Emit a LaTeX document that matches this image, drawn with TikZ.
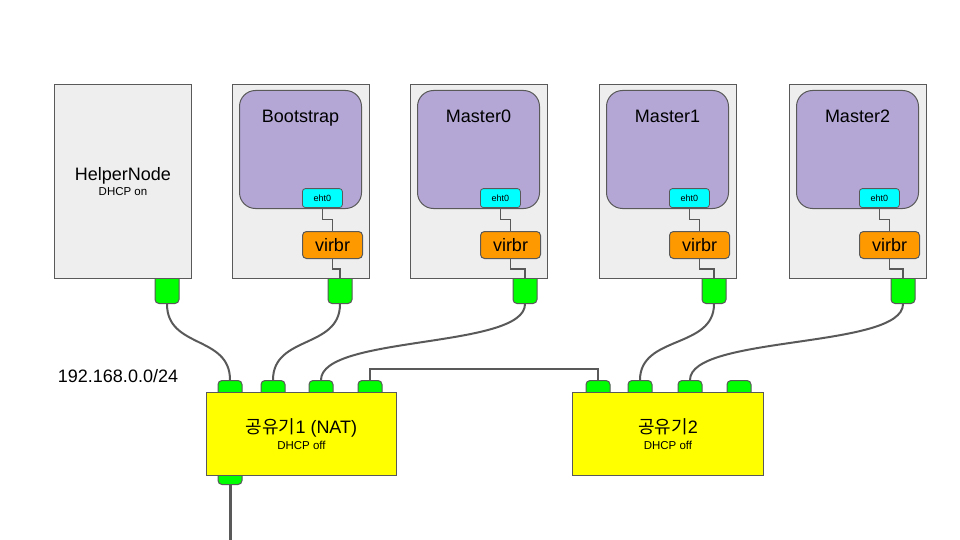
\documentclass[tikz,border=0pt]{standalone}
\usepackage{fontspec}
\setmainfont{Liberation Sans}
\newfontfamily\krfont{Noto Sans CJK KR}
\usetikzlibrary{calc}
\definecolor{HostGray}{RGB}{238,238,238}
\definecolor{EdgeGray}{RGB}{89,89,89}
\definecolor{VmPurple}{RGB}{180,167,214}
\definecolor{EthCyan}{RGB}{0,255,255}
\definecolor{BrOrange}{RGB}{255,153,0}
\definecolor{PortGreen}{RGB}{0,255,0}
\definecolor{RtYellow}{RGB}{255,255,0}
\tikzset{
  bigtext/.style={font=\fontsize{18}{20}\selectfont},
  host/.style={draw=EdgeGray,fill=HostGray,line width=1pt,anchor=north west,
    minimum width=137pt,minimum height=194pt,inner sep=0pt},
  vm/.style={draw=EdgeGray,fill=VmPurple,line width=1pt,rounded corners=16pt,
    anchor=north west,minimum width=122pt,minimum height=118pt,inner sep=0pt},
  eth/.style={draw=EdgeGray,fill=EthCyan,line width=0.8pt,rounded corners=3pt,
    minimum width=40pt,minimum height=19pt,inner sep=0pt,font=\fontsize{9}{10}\selectfont},
  bridge/.style={draw=EdgeGray,fill=BrOrange,line width=1pt,rounded corners=4pt,
    anchor=north west,minimum width=60pt,minimum height=27pt,inner sep=0pt,bigtext},
  port/.style={draw=EdgeGray,fill=PortGreen,line width=1pt,rounded corners=4pt,
    minimum width=24pt,minimum height=33pt,inner sep=0pt},
  rport/.style={port,anchor=north,minimum height=20pt},
  router/.style={draw=EdgeGray,fill=RtYellow,line width=1pt,anchor=north west,
    minimum width=190pt,minimum height=83pt,inner sep=0pt,align=center,bigtext},
  link/.style={draw=EdgeGray,line width=1.2pt},
  wire/.style={draw=EdgeGray,line width=2pt},
  upline/.style={draw=EdgeGray,line width=3pt},
}

\begin{document}
\begin{tikzpicture}[x=1pt,y=-1pt]
  \useasboundingbox (0,0) rectangle (960,540);
  % helper node
  \node[port,anchor=north] (pHelper) at (167,270) {};
  \node[host,align=center,bigtext] (hHelper) at (54,84)
    {HelperNode\\[-5pt]{\fontsize{11.5}{13}\selectfont DHCP on}};
  % cluster hosts
  \foreach \n/\x/\px in {Bootstrap/232/340,Master0/410/525,Master1/599/714,Master2/789/903} {
    \node[port,anchor=north] (p\n) at (\px,270) {};
    \node[host] (h\n) at (\x,84) {};
    \node[vm,label={[bigtext,anchor=north,inner sep=0pt,yshift=-20pt]north:\n}] (v\n) at (\x+7,90) {};
    \node[eth,anchor=south west] (e\n) at (\x+70,208) {eht0};
    \node[bridge] (b\n) at (\x+70,231) {virbr};
    \coordinate (t\n) at (p\n.north |- h\n.south);
    \draw[link] (e\n.south) |- ($(e\n.south)!.5!(b\n.north)$) -| (b\n.north);
    \draw[link] (b\n.south) |- ($(b\n.south)!.5!(t\n)$) -| (t\n);
  }
  % routers
  \foreach \i/\px in {1/230,2/273,3/321,4/370} {\node[rport] (aport\i) at (\px,380) {};}
  \foreach \i/\px in {1/598,2/640,3/690,4/739} {\node[rport] (bport\i) at (\px,380) {};}
  \node[rport,anchor=south] (aout) at (230,485) {};
  \node[router] (rA) at (206,392)
    {{\krfont 공유기}1 (NAT)\\[-4pt]{\fontsize{11.5}{13}\selectfont DHCP off}};
  \node[router,minimum width=191pt] (rB) at (572,392)
    {{\krfont 공유기}2\\[-4pt]{\fontsize{11.5}{13}\selectfont DHCP off}};
  \node[bigtext] (subnet) at (118,376) {192.168.0.0/24};
  % cables
  \draw[wire] (pHelper.south) .. controls +(0,45) and +(0,-45) .. (aport1.north);
  \draw[wire] (pBootstrap.south) .. controls +(0,45) and +(0,-45) .. (aport2.north);
  \draw[wire] (pMaster0.south) .. controls +(0,45) and +(0,-45) .. (aport3.north);
  \draw[wire] (pMaster1.south) .. controls +(0,45) and +(0,-45) .. (bport2.north);
  \draw[wire] (pMaster2.south) .. controls +(0,45) and +(0,-45) .. (bport3.north);
  \draw[link] (aport4.north) -- ++(0,-11) -| (bport1.north);
  \coordinate (uplink) at (230,540);
  \draw[upline] (aout.south) -- (uplink);
\end{tikzpicture}
\end{document}
